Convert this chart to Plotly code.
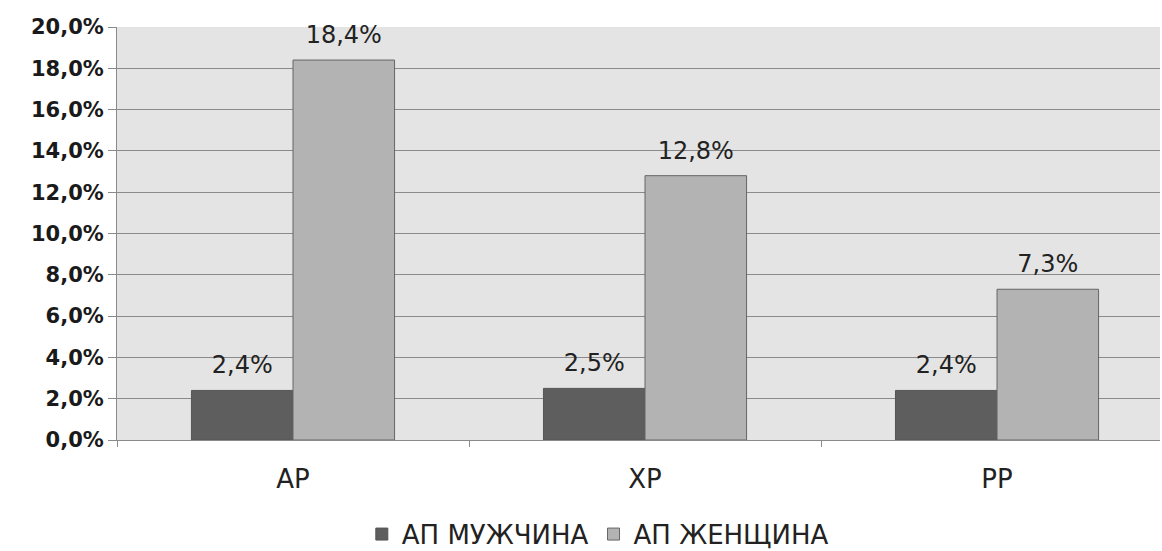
import plotly.graph_objects as go

categories = ["АР", "ХР", "РР"]
men = [2.4, 2.5, 2.4]
women = [18.4, 12.8, 7.3]
series_names = ["АП МУЖЧИНА", "АП ЖЕНЩИНА"]

def lbl(v):
    return [f"{x:.1f}%".replace(".", ",") for x in v]

lab_font = dict(family="DejaVu Sans", size=24, color="#222222")
fig = go.Figure()
fig.add_bar(x=categories, y=men, name=series_names[0], offsetgroup="m", alignmentgroup="g",
            marker=dict(color="#5e5e5e", line=dict(color="#555555", width=1)))
fig.add_bar(x=categories, y=women, name=series_names[1], offsetgroup="w", alignmentgroup="g",
            marker=dict(color="#b3b3b3", line=dict(color="#666666", width=1)))
# value labels as text-only scatter traces grouped like the bars
for vals, grp in ((men, "m"), (women, "w")):
    fig.add_scatter(x=categories, y=vals, mode="markers+text", text=lbl(vals), textposition="top center",
                    textfont=lab_font, offsetgroup=grp, alignmentgroup="g",
                    marker=dict(size=16, opacity=0), showlegend=False, hoverinfo="skip", cliponaxis=False)

fig.update_layout(
    width=1162, height=551,
    margin=dict(l=117, r=2, t=27, b=111, autoexpand=False),
    paper_bgcolor="white", plot_bgcolor="#e4e4e4",
    barmode="group", bargap=0.423, bargroupgap=0,
    scattermode="group", scattergap=0.423,
    separators=", ",
    showlegend=True,
    legend=dict(orientation="h", x=0.461, xanchor="center", y=-0.228, yanchor="middle",
                font=dict(family="DejaVu Sans", size=26, color="#222222"), itemwidth=30,
                tracegroupgap=0),
    font=dict(family="DejaVu Sans", color="#222222"),
)
fig.update_yaxes(range=[0, 20], dtick=2, tickformat=".1f", ticksuffix="%",
                 showgrid=True, gridcolor="#8a8a8a", gridwidth=1,
                 showline=True, linecolor="#8a8a8a", linewidth=1,
                 ticks="outside", ticklen=8, tickcolor="#8a8a8a",
                 tickfont=dict(family="DejaVu Sans", size=21, color="#1a1a1a", weight="bold"),
                 zeroline=False)
fig.update_xaxes(range=[-0.5, 2.463], showline=True, linecolor="#8a8a8a", linewidth=1,
                 ticks="outside", ticklen=6, tickcolor="#8a8a8a", tickson="boundaries",
                 ticklabelstandoff=16,
                 tickfont=dict(family="DejaVu Sans", size=26, color="#222222"))

fig.write_html("out.html")
